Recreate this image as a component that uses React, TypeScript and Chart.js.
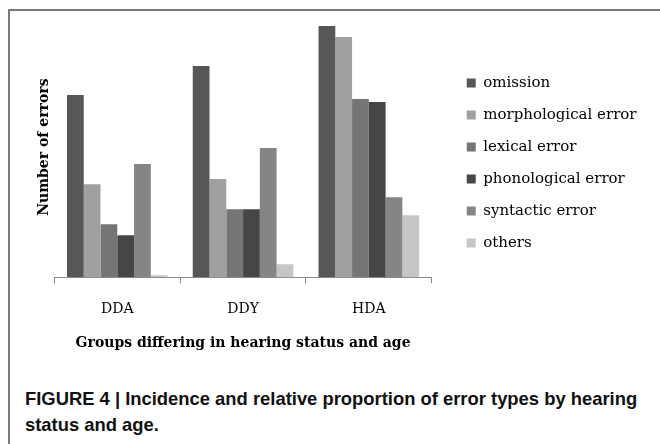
import React, { useEffect, useRef } from 'react';
import { Chart, registerables } from 'chart.js';

Chart.register(...registerables);

const categories = ['DDA', 'DDY', 'HDA'];
const seriesLabels = ['omission', 'morphological error', 'lexical error', 'phonological error', 'syntactic error', 'others'];
const omission = [182, 211, 251];
const morphological = [93, 98, 240];
const lexical = [53, 68, 178];
const phonological = [42, 68, 175];
const syntactic = [113, 129, 80];
const others = [2, 13, 62];
const seriesColors = ['#575757', '#a0a0a0', '#757575', '#464646', '#858585', '#c6c6c6'];
const yMax = 260;
const yTitle = 'Number of errors';
const xTitle = 'Groups differing in hearing status and age';
const caption = 'FIGURE 4 | Incidence and relative proportion of error types by hearing status and age.';

export default function App() {
  const ref = useRef<HTMLCanvasElement>(null);
  useEffect(() => {
    const values = [omission, morphological, lexical, phonological, syntactic, others];
    const chart = new Chart(ref.current as HTMLCanvasElement, {
      type: 'bar',
      data: {
        labels: categories,
        datasets: values.map((d, i) => ({
          label: seriesLabels[i],
          data: d,
          backgroundColor: seriesColors[i],
          borderWidth: 0,
          categoryPercentage: 0.8,
          barPercentage: 1,
        })),
      },
      options: {
        responsive: false,
        animation: false,
        layout: { padding: { left: 21.6, right: 13.5, top: 6, bottom: 7 } },
        plugins: {
          legend: {
            position: 'right',
            fullSize: false,
            align: 'center',
            maxWidth: 220,
            title: { display: true, text: ' ', font: { size: 10 }, padding: { top: 10, bottom: 10 } },
            labels: {
              boxWidth: 9,
              boxHeight: 9,
              padding: 17,
              color: '#000',
              font: { family: 'DejaVu Serif', size: 15 },
            },
          },
          tooltip: { enabled: false },
        },
        scales: {
          x: {
            grid: { display: true, drawOnChartArea: false, drawTicks: true, tickLength: 6, color: '#8c8c8c', offset: true },
            border: { display: true, color: '#8c8c8c' },
            ticks: { color: '#000', padding: 18, font: { family: 'DejaVu Serif', size: 14 } },
            title: {
              display: true,
              text: xTitle,
              color: '#000',
              font: { family: 'DejaVu Serif', size: 14, weight: 'bold', lineHeight: 1.0 },
              padding: { top: 0, bottom: 4 },
            },
          },
          y: {
            min: 0,
            max: yMax,
            grid: { display: false, drawTicks: false },
            border: { display: false },
            ticks: { display: false },
            title: {
              display: true,
              text: yTitle,
              color: '#000',
              font: { family: 'DejaVu Serif', size: 14, weight: 'bold' },
              padding: { top: 4, bottom: 2 },
            },
          },
          y2: {
            type: 'linear',
            position: 'right',
            display: true,
            grid: { display: false, drawTicks: false },
            border: { display: false },
            ticks: { display: false },
            afterFit: (s: any) => { s.width = 18; },
          },
        },
      } as any,
    });
    return () => chart.destroy();
  }, []);

  return (
    <div style={{ position: 'fixed', left: 0, top: 0, width: 660, height: 444, overflow: 'hidden', background: '#fff' }}>
      <div style={{ position: 'absolute', left: 8, top: 9, width: 660, height: 440, borderTop: '2px solid #7a7a7a', borderLeft: '2px solid #7a7a7a', boxSizing: 'border-box' }} />
      <canvas ref={ref} width={650} height={350} style={{ position: 'absolute', left: 10, top: 11, width: 650, height: 350 }} />
      <div style={{ position: 'absolute', left: 25, top: 386, width: 625, fontFamily: '"Liberation Sans", Arial, sans-serif', fontWeight: 'bold', fontSize: '18.4px', lineHeight: '26px', color: '#111' }}>
        {caption}
      </div>
    </div>
  );
}
